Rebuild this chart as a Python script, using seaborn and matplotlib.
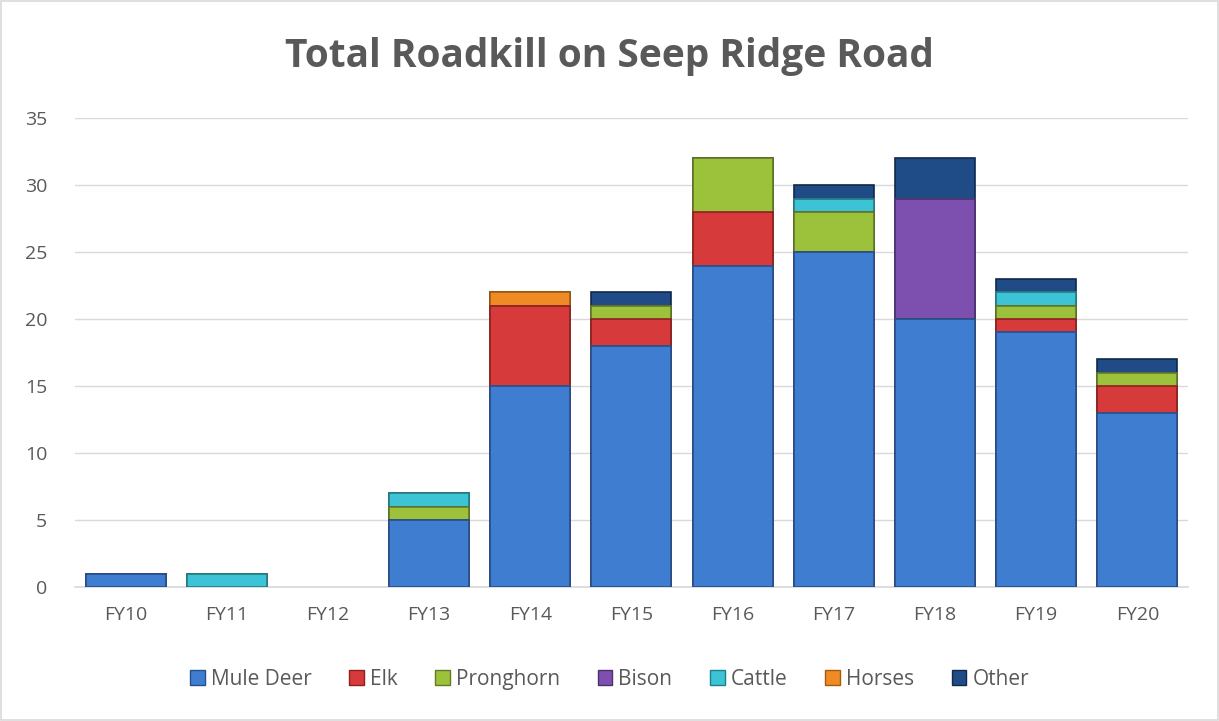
import matplotlib
matplotlib.use("Agg")
import matplotlib.pyplot as plt
import seaborn as sns
import pandas as pd
import numpy as np
from matplotlib.patches import Rectangle

years = ["FY10", "FY11", "FY12", "FY13", "FY14", "FY15", "FY16", "FY17", "FY18", "FY19", "FY20"]
mule_deer = [1, 0, 0, 5, 15, 18, 24, 25, 20, 19, 13]
elk       = [0, 0, 0, 0, 6, 2, 4, 0, 0, 1, 2]
pronghorn = [0, 0, 0, 1, 0, 1, 4, 3, 0, 1, 1]
bison     = [0, 0, 0, 0, 0, 0, 0, 0, 9, 0, 0]
cattle    = [0, 1, 0, 1, 0, 0, 0, 1, 0, 1, 0]
horses    = [0, 0, 0, 0, 1, 0, 0, 0, 0, 0, 0]
other     = [0, 0, 0, 0, 0, 1, 0, 1, 3, 1, 1]

species = ["Mule Deer", "Elk", "Pronghorn", "Bison", "Cattle", "Horses", "Other"]
series = [mule_deer, elk, pronghorn, bison, cattle, horses, other]
colors = ["#3F7DD0", "#D63A3A", "#9CC23C", "#7D4FAE", "#3CC3D6", "#EF8B24", "#1F4C86"]
edges = ["#24508F", "#8E2020", "#627A22", "#4E2F70", "#1E7D8B", "#A65A10", "#10284A"]

sns.set_theme(style="white")
plt.rcParams['font.family'] = ['Open Sans', 'DejaVu Sans']

fig = plt.figure(figsize=(12.19, 7.21), dpi=100)
ax = fig.add_axes([0.0615, 0.186, 0.913, 0.65])

cum = np.cumsum(np.array(series), axis=0)
df = pd.DataFrame({"year": years})
for i in range(len(species) - 1, -1, -1):
    df["v"] = cum[i]
    sns.barplot(data=df, x="year", y="v", color=colors[i], ax=ax, width=0.79,
                edgecolor=edges[i], linewidth=1.2, saturation=1, zorder=3)

for p in ax.patches:
    if p.get_height() <= 0:
        p.set_visible(False)

ax.set_ylim(0, 35)
ax.set_xlim(-0.5, len(years) - 0.5)
ax.set_yticks(range(0, 36, 5))
ax.yaxis.grid(True, color="#D9D9D9", linewidth=1)
ax.set_axisbelow(True)
for s in ["top", "right", "left"]:
    ax.spines[s].set_visible(False)
ax.spines["bottom"].set_color("#D9D9D9")
ax.tick_params(axis="both", colors="#595959", labelsize=14, length=0)
ax.tick_params(axis="x", pad=14)
ax.tick_params(axis="y", pad=20)
ax.set_xlabel("")
ax.set_ylabel("")
for lbl in ax.get_yticklabels() + ax.get_xticklabels():
    lbl.set_color("#595959")

fig.text(0.5, 0.922, "Total Roadkill on Seep Ridge Road", ha="center", va="center",
         fontsize=28, fontweight="bold", color="#595959")

handles = [Rectangle((0, 0), 1, 1, facecolor=c, edgecolor=e, linewidth=1) for c, e in zip(colors, edges)]
fig.legend(handles, species, loc="center", bbox_to_anchor=(0.5, 0.058), ncol=7, frameon=False,
           fontsize=15, handlelength=0.7, handleheight=0.7, handletextpad=0.3, columnspacing=1.8,
           labelcolor="#595959")

fig.add_artist(Rectangle((0.001, 0.001), 0.998, 0.998, transform=fig.transFigure,
                         fill=False, edgecolor="#D9D9D9", linewidth=1.2))

fig.savefig("out.png", dpi=100, facecolor="white")
